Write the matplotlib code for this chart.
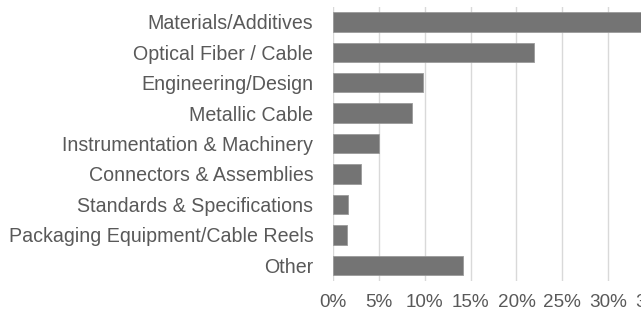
import numpy as np
import matplotlib.pyplot as plt
from matplotlib.ticker import PercentFormatter

categories = ["Materials/Additives", "Optical Fiber / Cable", "Engineering/Design",
              "Metallic Cable", "Instrumentation & Machinery", "Connectors & Assemblies",
              "Standards & Specifications", "Packaging Equipment/Cable Reels", "Other"]
shares = [0.34, 0.219, 0.098, 0.086, 0.050, 0.031, 0.017, 0.016, 0.142]
xticks = [0, 0.05, 0.10, 0.15, 0.20, 0.25, 0.30, 0.35]

plt.rcParams['font.family'] = ['Liberation Sans', 'DejaVu Sans']

W, H = 641, 314
fig = plt.figure(figsize=(W / 100, H / 100), dpi=100)
# axes runs past the right edge of the figure, as in the cropped original
x0, x35 = 332.7, 654.3
top, bot = 6.6, 280.5
ax = fig.add_axes([x0 / W, 1 - bot / H, (x35 - x0) / W, (bot - top) / H])

y = np.arange(len(categories))
ax.barh(y, shares, height=0.64, color='#747474', edgecolor='#9a9a9a', linewidth=0.6, zorder=3)

ax.set_ylim(len(categories) - 0.5, -0.5)
ax.set_xlim(0, 0.35)
ax.set_yticks(y)
ax.set_yticklabels(categories)
ax.set_xticks(xticks)
ax.xaxis.set_major_formatter(PercentFormatter(1.0, decimals=0))

ax.grid(axis='x', color='#d9d9d9', linewidth=1.0, zorder=0)
for s in ax.spines.values():
    s.set_visible(False)
ax.tick_params(axis='y', length=0, pad=14, labelsize=14.1, labelcolor='#595959')
ax.tick_params(axis='x', length=0, pad=10, labelsize=13.6, labelcolor='#595959')

fig.savefig('out.png', dpi=100)
